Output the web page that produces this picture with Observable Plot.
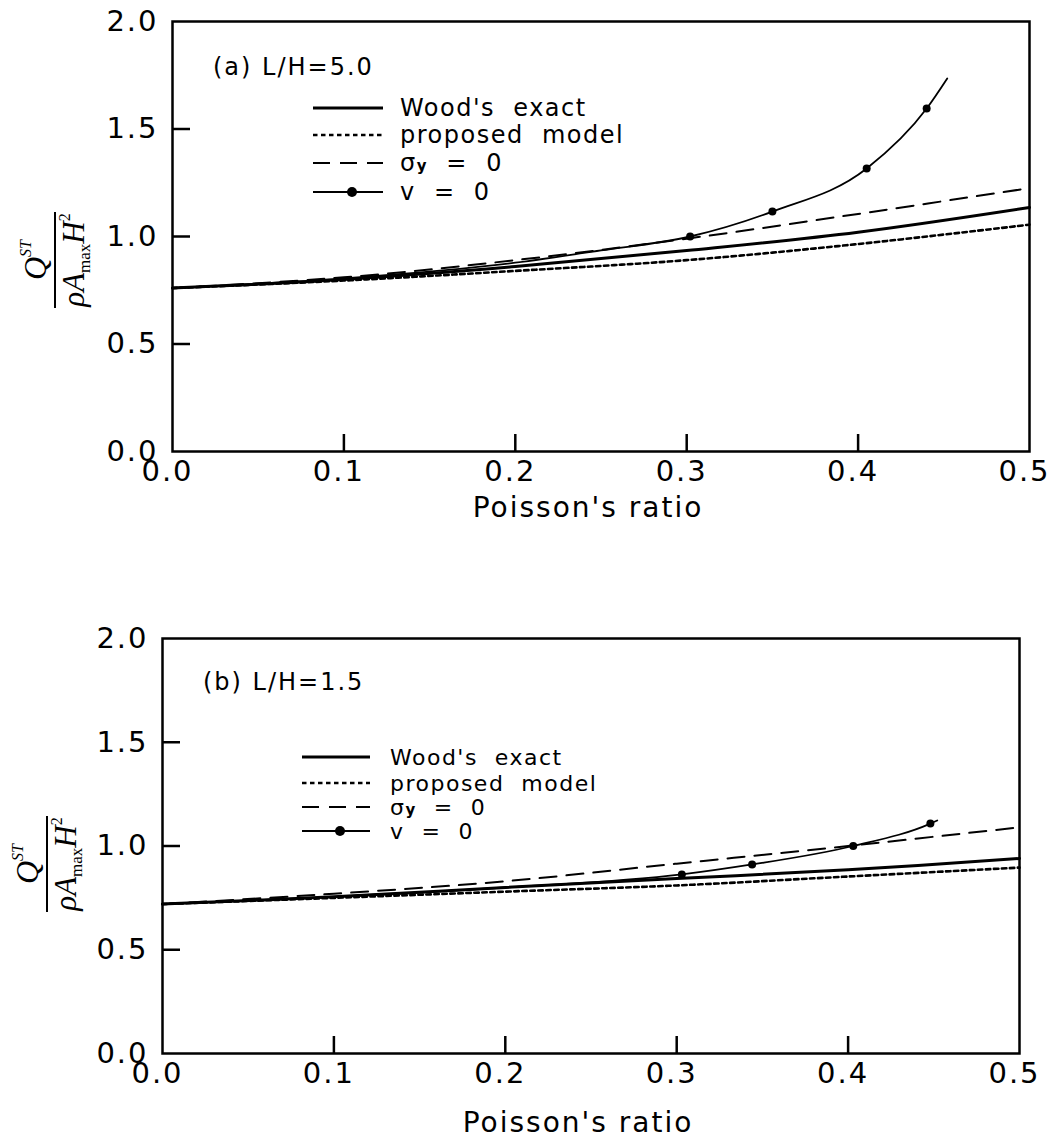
<!DOCTYPE html>
<html>
<head>
<meta charset="utf-8">
<script src="https://cdn.jsdelivr.net/npm/d3@7"></script>
<script src="https://cdn.jsdelivr.net/npm/@observablehq/plot@0.6"></script>
<style>
  html, body { margin: 0; padding: 0; background: #fff; }
  #wrap { width: 1061px; height: 1139px; position: relative; }
  #wrap svg { display: block; }
</style>
</head>
<body>
<div id="wrap"></div>
<script>
// ---------- data ----------
const nuGrid = [0, 0.1, 0.2, 0.3, 0.4, 0.5];
const xTicks = [0, 0.1, 0.2, 0.3, 0.4, 0.5];
const yTicks = [0, 0.5, 1.0, 1.5, 2.0];
const legendLabels = ["Wood's exact", "proposed model", "σy = 0", "v = 0"];
const xLabel = "Poisson's ratio";

// panel (a) L/H = 5.0
const aTitle = "(a) L/H=5.0";
const aWood = [0.76, 0.80, 0.86, 0.935, 1.02, 1.135];
const aProp = [0.76, 0.795, 0.84, 0.89, 0.965, 1.055];
const aSig  = [0.76, 0.81, 0.89, 0.99, 1.105, 1.225];
const aV0Nu = [0, 0.1, 0.2, 0.25, 0.302, 0.35, 0.405, 0.44, 0.452];
const aV0   = [0.76, 0.805, 0.878, 0.935, 1.0, 1.116, 1.316, 1.595, 1.735];
const aDotNu = [0.302, 0.35, 0.405, 0.44];
const aDot   = [1.0, 1.116, 1.316, 1.595];

// panel (b) L/H = 1.5
const bTitle = "(b) L/H=1.5";
const bWood = [0.72, 0.755, 0.80, 0.843, 0.885, 0.94];
const bProp = [0.72, 0.75, 0.78, 0.81, 0.853, 0.896];
const bSig  = [0.72, 0.77, 0.83, 0.915, 1.0, 1.09];
const bV0Nu = [0, 0.1, 0.2, 0.303, 0.344, 0.403, 0.448, 0.452];
const bV0   = [0.72, 0.755, 0.80, 0.863, 0.911, 1.0, 1.108, 1.123];
const bDotNu = [0.303, 0.344, 0.403, 0.448];
const bDot   = [0.863, 0.911, 1.0, 1.108];

// ---------- drawing ----------
const FONT = "DejaVu Sans";
const zip = (xs, ys) => xs.map((x, i) => ({x, y: ys[i]}));

function panel(cfg) {
  const plotW = cfg.width - cfg.ml - cfg.mr;
  const plotH = cfg.height - cfg.mt - cfg.mb;
  const svg = Plot.plot({
    width: cfg.width, height: cfg.height,
    marginLeft: cfg.ml, marginRight: cfg.mr, marginTop: cfg.mt, marginBottom: cfg.mb,
    x: {domain: [0, 0.5]},
    y: {domain: [0, 2]},
    style: {fontFamily: FONT, fontSize: "29px", letterSpacing: "2px", background: "#fff", color: "#000"},
    marks: [
      Plot.frame({stroke: "#000", strokeWidth: 2.5}),
      Plot.tickX(xTicks.slice(1, -1), {x: d => d, insetTop: plotH - 17, stroke: "#000", strokeWidth: 2.5}),
      Plot.tickY(yTicks.slice(1, -1), {y: d => d, insetRight: plotW - 18, stroke: "#000", strokeWidth: 2.5}),
      Plot.axisX({ticks: xTicks, tickSize: 0, tickPadding: 9, dx: -5, tickFormat: d3.format(".1f"), label: null}),
      Plot.axisY({ticks: yTicks, tickSize: 0, tickPadding: 14, tickFormat: d3.format(".1f"), label: null}),
      Plot.line(zip(nuGrid, cfg.prop), {x: "x", y: "y", curve: "catmull-rom", stroke: "#000", strokeWidth: 2.6, strokeDasharray: "4.5,3.5"}),
      Plot.line(zip(nuGrid, cfg.sig), {x: "x", y: "y", curve: "catmull-rom", stroke: "#000", strokeWidth: 2, strokeDasharray: "17,10"}),
      Plot.line(zip(cfg.v0Nu, cfg.v0), {x: "x", y: "y", curve: "monotone-x", stroke: "#000", strokeWidth: 1.8}),
      Plot.line(zip(nuGrid, cfg.wood), {x: "x", y: "y", curve: "catmull-rom", stroke: "#000", strokeWidth: 3}),
      Plot.dot(zip(cfg.dotNu, cfg.dot), {x: "x", y: "y", r: 4, fill: "#000", stroke: "none"})
    ]
  });

  const s = d3.select(svg);
  // panel title
  s.append("text").attr("x", cfg.titleX).attr("y", cfg.titleY)
    .attr("text-anchor", "start").attr("dominant-baseline", "central")
    .style("font-size", "24px").style("letter-spacing", "2px").style("font-family", FONT)
    .attr("xml:space", "preserve")
    .text(cfg.title);

  // legend
  const lg = s.append("g").style("font-family", FONT).style("font-size", cfg.legFont + "px").style("letter-spacing", "1.5px");
  const styles = [
    {w: 3, dash: null},
    {w: 2.6, dash: "4.5,3.5"},
    {w: 2, dash: "17,10"},
    {w: 1.8, dash: null, dot: true}
  ];
  legendLabels.forEach((lab, i) => {
    const y = cfg.legY[i];
    lg.append("line").attr("x1", cfg.legX1).attr("x2", cfg.legX2).attr("y1", y).attr("y2", y)
      .attr("stroke", "#000").attr("stroke-width", styles[i].w)
      .attr("stroke-dasharray", styles[i].dash);
    if (styles[i].dot) {
      lg.append("circle").attr("cx", (cfg.legX1 + cfg.legX2) / 2 + 4).attr("cy", y).attr("r", 5).attr("fill", "#000");
    }
    const t = lg.append("text").attr("x", cfg.legTX).attr("y", y)
      .attr("text-anchor", "start").attr("dominant-baseline", "central");
    if (i === 2) {
      t.append("tspan").text("σ");
      t.append("tspan").attr("font-size", "15px").attr("font-weight", "bold").attr("dy", "3").text("y");
      t.append("tspan").attr("dy", "-3").attr("xml:space", "preserve").text("  =  0");
    } else if (i === 3) {
      t.attr("xml:space", "preserve").text("v  =  0");
    } else {
      t.attr("xml:space", "preserve").text(lab.replace(" ", "  "));
    }
  });

  // x-axis title
  s.append("text").attr("x", cfg.xLabX).attr("y", cfg.xLabY)
    .attr("text-anchor", "middle").attr("dominant-baseline", "central")
    .style("font-size", "28px").style("letter-spacing", "2px").style("font-family", FONT)
    .text(xLabel);

  // y-axis title (fraction)
  const g = s.append("g").attr("transform", `translate(${cfg.fracX},${cfg.fracY}) rotate(-90)`)
    .style("font-family", "Liberation Serif").style("letter-spacing", "0px");
  g.append("line").attr("x1", -48).attr("x2", 48).attr("y1", 0).attr("y2", 0)
    .attr("stroke", "#000").attr("stroke-width", 2);
  const num = g.append("text").attr("x", 0).attr("y", -9).attr("text-anchor", "middle").style("font-size", "32px");
  num.append("tspan").style("font-style", "italic").text("Q");
  num.append("tspan").style("font-style", "italic").style("font-size", "16px").attr("dy", -15).text("ST");
  const den = g.append("text").attr("x", 0).attr("y", 29).attr("text-anchor", "middle").style("font-size", "31px");
  den.append("tspan").style("font-style", "italic").text("ρA");
  den.append("tspan").style("font-size", "17px").attr("dy", 6).text("max");
  den.append("tspan").style("font-style", "italic").attr("dy", -6).text("H");
  den.append("tspan").style("font-size", "16px").attr("dy", -14).text("2");

  return svg;
}

const wrap = document.getElementById("wrap");
wrap.appendChild(panel({
  width: 1061, height: 560, ml: 172, mr: 32, mt: 21, mb: 109,
  wood: aWood, prop: aProp, sig: aSig, v0Nu: aV0Nu, v0: aV0, dotNu: aDotNu, dot: aDot,
  title: aTitle, titleX: 213, titleY: 67,
  legX1: 313, legX2: 383, legTX: 400, legY: [108, 135, 163, 192], legFont: 24,
  xLabX: 588, xLabY: 507,
  fracX: 55, fracY: 260
}));
wrap.appendChild(panel({
  width: 1061, height: 579, ml: 162, mr: 42, mt: 78, mb: 86,
  wood: bWood, prop: bProp, sig: bSig, v0Nu: bV0Nu, v0: bV0, dotNu: bDotNu, dot: bDot,
  title: bTitle, titleX: 203, titleY: 122,
  legX1: 302, legX2: 370, legTX: 390, legY: [197, 223, 247, 271], legFont: 22,
  xLabX: 578, xLabY: 562,
  fracX: 47, fracY: 304
}));
</script>
</body>
</html>
